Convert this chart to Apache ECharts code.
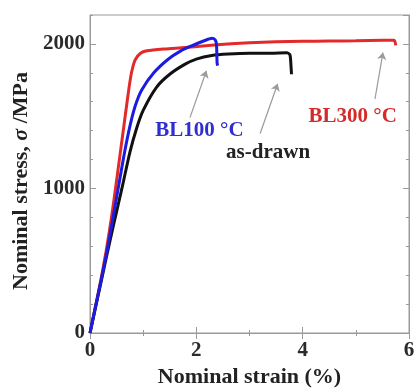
<!DOCTYPE html>
<html>
<head>
<meta charset="utf-8">
<script src="https://cdn.jsdelivr.net/npm/echarts@6/dist/echarts.min.js"></script>
<style>
  html, body { margin: 0; padding: 0; background: #fff; }
  #chart { width: 416px; height: 389px; }
</style>
</head>
<body>
<div id="chart"></div>
<script>
// nominal strain (%) / nominal stress (MPa)
var bl300Strain = [0, 0.1, 0.2, 0.3, 0.4, 0.48, 0.56, 0.64, 0.72, 0.78, 0.85, 0.95, 1.07, 1.4, 1.8, 2.4, 3.0, 3.5, 4.0, 4.5, 5.0, 5.5, 5.72, 5.75];
var bl300Stress = [0, 180, 360, 560, 790, 1000, 1220, 1440, 1660, 1800, 1890, 1935, 1952, 1965, 1975, 1995, 2008, 2015, 2018, 2020, 2022, 2025, 2026, 1990];

var bl100Strain = [0, 0.1, 0.2, 0.3, 0.42, 0.53, 0.65, 0.75, 0.85, 0.97, 1.2, 1.47, 1.7, 1.91, 2.1, 2.22, 2.3, 2.36, 2.38, 2.39, 2.4];
var bl100Stress = [0, 175, 350, 530, 770, 1000, 1250, 1430, 1570, 1680, 1800, 1894, 1950, 1986, 2015, 2032, 2040, 2025, 1990, 1870, 1850];

var drawnStrain = [0, 0.1, 0.2, 0.3, 0.45, 0.6, 0.75, 0.88, 1.0, 1.25, 1.5, 1.79, 2.0, 2.29, 2.6, 3.0, 3.4, 3.7, 3.76, 3.78, 3.79];
var drawnStress = [0, 170, 340, 510, 760, 1000, 1250, 1420, 1540, 1700, 1790, 1860, 1895, 1920, 1930, 1935, 1935, 1938, 1925, 1850, 1790];

var xTicks = [0, 2, 4, 6];
var yTicks = [0, 1000, 2000];

// label text, label centre, arrow start, arrow tip (data coords)
var labelNames = ['BL100 °C', 'as-drawn', 'BL300 °C'];
var labelAt = [[2.06, 1400], [3.35, 1250], [4.94, 1500]];
var arrowFrom = [[1.88, 1490], [3.2, 1380], [5.36, 1619]];
var arrowTo = [[2.19, 1814], [3.53, 1724], [5.51, 1940]];

var colors = ['#1c1ce0', '#111111', '#e22a2a'];
var labelColors = ['#2f2fd0', '#222222', '#d42a2a'];

function pairs(xs, ys) {
    return xs.map(function (x, i) { return [x, ys[i]]; });
}

var serif = 'Liberation Serif, Times New Roman, serif';

function makeSeries(name, data, idx) {
    return {
        name: name,
        type: 'line',
        data: data,
        showSymbol: false,
        smooth: 0.25,
        lineStyle: { color: colors[idx], width: 3 },
        z: 3 - idx,
        markLine: {
            silent: true,
            symbol: ['none', 'arrow'],
            symbolSize: 7,
            label: { show: false },
            lineStyle: { color: '#9a9a9a', width: 1.2, type: 'solid' },
            data: [[{ coord: arrowFrom[idx] }, { coord: arrowTo[idx] }]]
        },
        markPoint: {
            silent: true,
            symbol: 'circle',
            symbolSize: 1,
            itemStyle: { color: 'rgba(0,0,0,0)' },
            label: {
                show: true,
                position: 'inside',
                formatter: labelNames[idx],
                color: labelColors[idx],
                fontFamily: serif,
                fontWeight: 'bold',
                fontSize: 21
            },
            data: [{ coord: labelAt[idx] }]
        }
    };
}

function yAx(pos, interval, len, labels, line) {
    return {
        type: 'value', position: pos, min: 0, max: 2200, interval: interval,
        axisLine: { show: line, lineStyle: { color: '#9a9a9a', width: 1 } },
        axisTick: { show: true, inside: true, length: len, lineStyle: { color: '#9a9a9a' } },
        splitLine: { show: false },
        axisLabel: {
            show: labels, showMaxLabel: false, margin: 5,
            color: '#2a2a2a', fontFamily: serif, fontWeight: 'bold', fontSize: 21,
            formatter: function (v) { return yTicks.indexOf(v) >= 0 ? String(v) : ''; }
        }
    };
}

var chart = echarts.init(document.getElementById('chart'));
chart.setOption({
    animation: false,
    grid: {
        left: 90, right: 7, top: 15, bottom: 56, outerBoundsMode: 'none', containLabel: false,
        show: true, borderColor: '#9a9a9a', borderWidth: 1
    },
    xAxis: [{
        type: 'value', position: 'bottom', min: 0, max: 6, interval: 2,
        name: 'Nominal strain (%)', nameLocation: 'middle', nameGap: 33,
        nameTextStyle: { color: '#222', fontFamily: serif, fontWeight: 'bold', fontSize: 22 },
        axisLine: { lineStyle: { color: '#9a9a9a' } },
        axisTick: { inside: true, length: 6, lineStyle: { color: '#9a9a9a' } },
        minorTick: { show: true, splitNumber: 2, length: 3, lineStyle: { color: '#9a9a9a' } },
        splitLine: { show: false },
        axisLabel: {
            margin: 7, color: '#2a2a2a', fontFamily: serif, fontWeight: 'bold', fontSize: 21,
            formatter: function (v) { return xTicks.indexOf(v) >= 0 ? String(v) : ''; }
        }
    }, {
        type: 'value', position: 'top', min: 0, max: 6, interval: 2,
        axisLine: { lineStyle: { color: '#9a9a9a' } },
        axisTick: { inside: true, length: 6, lineStyle: { color: '#9a9a9a' } },
        minorTick: { show: true, splitNumber: 2, length: 3, lineStyle: { color: '#9a9a9a' } },
        splitLine: { show: false },
        axisLabel: { show: false }
    }],
    yAxis: [
        Object.assign(yAx('left', 1000, 6, true, true), {
            name: 'Nominal stress, {i|σ} /MPa', nameLocation: 'middle', nameGap: 55,
            nameTextStyle: {
                color: '#222', fontFamily: serif, fontWeight: 'bold', fontSize: 22,
                padding: [0, 14, 0, 0],
                rich: { i: { fontStyle: 'italic', fontFamily: serif, fontWeight: 'bold', fontSize: 22, color: '#222' } }
            }
        }),
        yAx('left', 200, 3, false, false),
        yAx('right', 1000, 6, false, true),
        yAx('right', 200, 3, false, false)
    ],
    series: [
        makeSeries('BL100 °C', pairs(bl100Strain, bl100Stress), 0),
        makeSeries('as-drawn', pairs(drawnStrain, drawnStress), 1),
        makeSeries('BL300 °C', pairs(bl300Strain, bl300Stress), 2)
    ]
});
</script>
</body>
</html>
